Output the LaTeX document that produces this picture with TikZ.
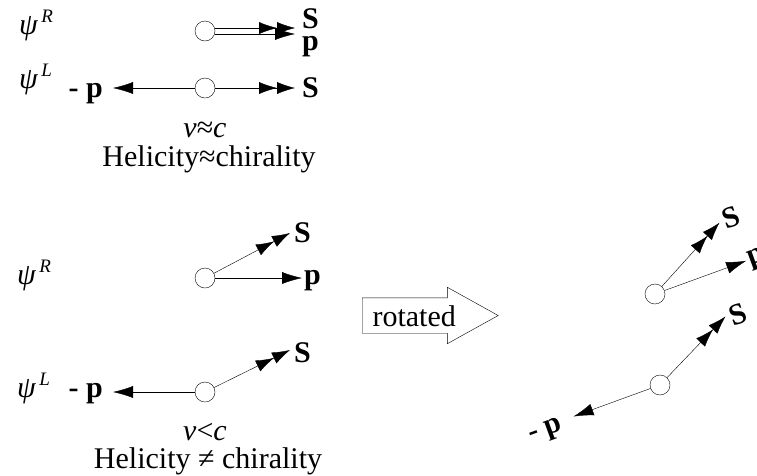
\documentclass[tikz,border=0pt]{standalone}
\usepackage{fontspec}
\setmainfont{Liberation Serif}
\usetikzlibrary{arrows.meta,calc,positioning,shapes.arrows}
\newcommand{\chir}[1]{\textit{ψ}\kern3pt\raisebox{12pt}{\fontsize{19}{19}\selectfont\textit{#1}}}
\tikzset{line width=.8pt,
  every node/.style={font=\fontsize{30}{32}\selectfont,inner sep=0pt},
  vec/.style={draw,-{Latex[length=20pt,width=12pt]}},
  spin/.style={draw,-{Latex[length=18pt,width=12pt,sep=0pt]Latex[length=18pt,width=12pt]}},
  part/.style={circle,draw,minimum size=20pt},
  lbl/.style={font=\fontsize{30}{32}\selectfont\bfseries},
  rotbox/.style={single arrow,draw,inner xsep=4pt,inner ysep=3.5pt,
    text height=25pt,text depth=3pt,single arrow head extend=10.5pt,
    single arrow tip angle=58,single arrow head indent=0pt,minimum height=136pt}}
\begin{document}
\begin{tikzpicture}[x=1pt,y=-1pt]
\useasboundingbox (0,0) rectangle (757,475);
% v close to c
\node[anchor=base west] (psiR1) at (19,34) {\chir{R}};
\node[anchor=base west] (psiL1) at (19,88) {\chir{L}};
\node[part] (c1) at (205,31) {};
\coordinate (tS1) at (295,28);\coordinate (tP1) at (295,34);
\draw[spin] (c1.17)--(c1.17-|tS1);
\draw[vec] (c1.-17)--(c1.-17-|tP1);
\node[lbl,anchor=base west] (S1) at (302,28) {S};
\node[lbl,anchor=base west] (P1) at (302,50) {p};
\node[part] (c2) at (205,88) {};
\coordinate (tS2) at (295,88);\coordinate (tP2) at (113,88);
\draw[spin] (c2)--(tS2);\draw[vec] (c2)--(tP2);
\node[lbl,anchor=base west] (S2) at (302,97) {S};
\node[lbl,anchor=base east] (P2) at (103,97) {- p};
\node[anchor=base] (v1) at (205,137) {\textit{v}≈\textit{c}};
\node[anchor=base] (h1) at (209,166) {Helicity≈chirality};
% v below c
\node[anchor=base west] (psiR2) at (17,284) {\chir{R}};
\node[anchor=base west] (psiL2) at (17,397) {\chir{L}};
\node[part] (c3) at (205,278) {};
\coordinate (tS3) at (290,233);\coordinate (tP3) at (302,278);
\draw[spin] (c3)--(tS3);\draw[vec] (c3)--(tP3);
\node[lbl,anchor=base west] (S3) at (294,242) {S};
\node[lbl,anchor=base west] (P3) at (304,284) {p};
\node[part] (c4) at (205,392) {};
\coordinate (tS4) at (290,350);\coordinate (tP4) at (113,392);
\draw[spin] (c4)--(tS4);\draw[vec] (c4)--(tP4);
\node[lbl,anchor=base west] (S4) at (294,362) {S};
\node[lbl,anchor=base east] (P4) at (103,397) {- p};
\node[anchor=base] (v2) at (205,440) {\textit{v}<\textit{c}};
\node[anchor=base] (h2) at (208,468) {Helicity ≠ chirality};
% rotation
\node[rotbox,anchor=west] (rot) at (362,315.5) {rotated};
\begin{scope}[shift={(655,294)},rotate=20,transform shape]
\node[part] (c5) at (0,0) {};
\coordinate (tS5) at (85,-45);\coordinate (tP5) at (97,0);
\draw[spin] (c5)--(tS5);\draw[vec] (c5)--(tP5);
\node[lbl,anchor=base west] (S5) at (89,-36) {S};
\node[lbl,anchor=base west] (P5) at (99,6) {p};
\end{scope}
\begin{scope}[shift={(660,385)},rotate=20,transform shape]
\node[part] (c6) at (0,0) {};
\coordinate (tS6) at (85,-42);\coordinate (tP6) at (-92,0);
\draw[spin] (c6)--(tS6);\draw[vec] (c6)--(tP6);
\node[lbl,anchor=base west] (S6) at (89,-30) {S};
\node[lbl,anchor=base east] (P6) at (-106,9) {- p};
\end{scope}
\end{tikzpicture}
\end{document}
